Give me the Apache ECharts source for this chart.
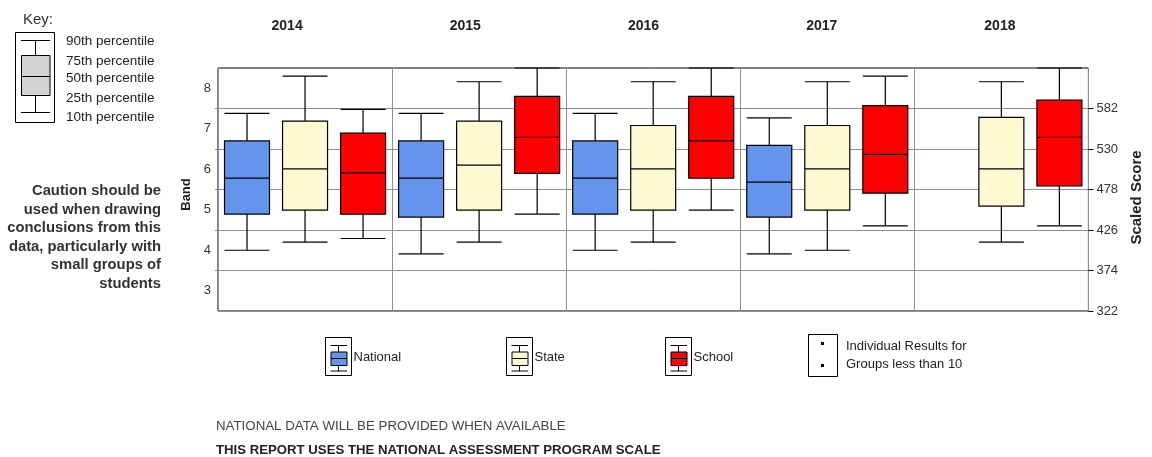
<!DOCTYPE html>
<html><head><meta charset="utf-8">
<script src="https://cdn.jsdelivr.net/npm/echarts@6/dist/echarts.min.js"></script>
<style>html,body{margin:0;padding:0;background:#fff;}#c{width:1152px;height:457px;}</style>
</head><body><div id="c"></div>
<script>
// ---- data (band units): [10th, 25th, 50th, 75th, 90th percentile] ----
const years = ['2014', '2015', '2016', '2017', '2018'];
const national = [
  [4.00, 4.89, 5.78, 6.70, 7.38],
  [3.91, 4.82, 5.78, 6.70, 7.38],
  [4.00, 4.89, 5.78, 6.70, 7.38],
  [3.91, 4.82, 5.68, 6.59, 7.27],
  null
];
const state = [
  [4.20, 4.99, 6.01, 7.19, 8.30],
  [4.20, 4.99, 6.10, 7.19, 8.16],
  [4.20, 4.99, 6.01, 7.08, 8.16],
  [4.00, 4.99, 6.01, 7.08, 8.16],
  [4.20, 5.09, 6.01, 7.28, 8.16]
];
const school = [
  [4.29, 4.89, 5.91, 6.89, 7.48],
  [4.89, 5.90, 6.79, 7.80, 8.50],
  [4.99, 5.78, 6.70, 7.80, 8.50],
  [4.60, 5.41, 6.37, 7.57, 8.30],
  [4.60, 5.59, 6.79, 7.71, 8.50]
];
const seriesNames = ['National', 'State', 'School'];
const bandTicks = [3, 4, 5, 6, 7, 8];
const scaledTicks = [322, 374, 426, 478, 530, 582];
const keyLabels = ['90th percentile', '75th percentile', '50th percentile', '25th percentile', '10th percentile'];
const cautionText = ['Caution should be', 'used when drawing', 'conclusions from this', 'data, particularly with', 'small groups of', 'students'];
const footNotes = ['NATIONAL DATA WILL BE PROVIDED WHEN AVAILABLE', 'THIS REPORT USES THE NATIONAL ASSESSMENT PROGRAM SCALE'];
const smallGroupLabel = ['Individual Results for', 'Groups less than 10'];

// ---- styling ----
const colors = ['#6495ED', '#FFF9D2', '#FF0000'];
const FONT = "'Liberation Sans', Arial, sans-serif";
const GRID_GRAY = '#8f8f8f';

const allSeries = [national, state, school];
const slots = [];
years.forEach(y => seriesNames.forEach(n => slots.push(y + ' ' + n)));
const EMPTY = ['-', '-', '-', '-', '-'];

const series = allSeries.map((arr, k) => ({
  type: 'boxplot',
  name: seriesNames[k],
  xAxisIndex: k + 1,
  yAxisIndex: 0,
  boxWidth: [45, 45],
  silent: true,
  itemStyle: { color: colors[k], borderColor: '#000', borderWidth: 1.2 },
  emphasis: { disabled: true },
  data: slots.map((s, j) => (j % 3 === k && arr[Math.floor(j / 3)]) ? arr[Math.floor(j / 3)].slice() : EMPTY.slice())
}));

const hiddenSlotAxis = () => ({
  type: 'category', gridIndex: 0, data: slots, show: false, boundaryGap: true
});

// ---- decorations (key, legend, notes) ----
const g = [];
function line(x1, y1, x2, y2, color, w) {
  g.push({ type: 'line', silent: true, shape: { x1, y1, x2, y2 }, style: { stroke: color || '#000', lineWidth: w || 1 } });
}
function rect(x, y, w, h, fill, stroke) {
  g.push({ type: 'rect', silent: true, shape: { x, y, width: w, height: h }, style: { fill: fill, stroke: stroke || '#000', lineWidth: 1 } });
}
function text(x, y, str, opt) {
  g.push({ type: 'text', silent: true, x, y, style: Object.assign({ text: str, font: '12px ' + FONT, fill: '#222', align: 'left', verticalAlign: 'middle' }, opt || {}) });
}
// Key
text(23, 20, 'Key:', { font: '15px ' + FONT, fill: '#333' });
rect(15.5, 32.5, 39, 90, '#fff');
line(21, 40.5, 50, 40.5); line(35.5, 40.5, 35.5, 55.5);
rect(21.5, 55.5, 28.5, 40, '#d3d3d3');
line(21.5, 76.5, 50, 76.5);
line(35.5, 95.5, 35.5, 112.5); line(21, 112.5, 50, 112.5);
const keyY = [41.7, 61, 78.3, 98.3, 117.3];
keyLabels.forEach((t, i) => text(66, keyY[i], t, { font: '13.5px ' + FONT, fill: '#222' }));

// Caution
text(161, 182, cautionText.join('\n'), { font: 'bold 14.8px ' + FONT, fill: '#333', align: 'right', verticalAlign: 'top', lineHeight: 18.5 });

// Series legend glyphs
const legendX = [325.5, 506.5, 665.5];
seriesNames.forEach((n, k) => {
  const fx = legendX[k], fy = 337.5;
  rect(fx, fy, 26, 38, '#fff');
  line(fx + 5, fy + 8, fx + 21.5, fy + 8);
  line(fx + 13, fy + 8, fx + 13, fy + 14.5);
  rect(fx + 5.5, fy + 14.5, 16, 13.5, colors[k]);
  line(fx + 5.5, fy + 21, fx + 21.5, fy + 21);
  line(fx + 13, fy + 28, fx + 13, fy + 33.5);
  line(fx + 5, fy + 33.5, fx + 21.5, fy + 33.5);
  text(fx + 28, 357, n, { font: '13px ' + FONT, fill: '#222' });
});
// small-groups legend item
rect(808.5, 334.5, 29, 42, '#fff');
g.push({ type: 'rect', silent: true, shape: { x: 821, y: 342, width: 3, height: 3 }, style: { fill: '#000' } });
g.push({ type: 'rect', silent: true, shape: { x: 821, y: 364, width: 3, height: 3 }, style: { fill: '#000' } });
text(846, 346, smallGroupLabel[0], { font: '13px ' + FONT, fill: '#222' });
text(846, 364.5, smallGroupLabel[1], { font: '13px ' + FONT, fill: '#222' });

// Footnotes
text(216, 426, footNotes[0], { font: '13.3px ' + FONT, fill: '#444' });
text(216, 450, footNotes[1], { font: 'bold 13.2px ' + FONT, fill: '#222' });

const chart = echarts.init(document.getElementById('c'), null, { renderer: 'canvas' });
chart.setOption({
  backgroundColor: '#fff',
  animation: false,
  grid: [
    { left: 218, top: 68, width: 880, height: 243, show: true, borderColor: '#000', borderWidth: 1, backgroundColor: 'transparent' },
    { left: 198, top: 68, width: 891, height: 243, show: false }
  ],
  xAxis: [
    {
      type: 'category', gridIndex: 0, data: years, boundaryGap: true,
      axisLine: { show: false }, axisTick: { show: false }, axisLabel: { show: false },
      splitLine: { show: true, lineStyle: { color: GRID_GRAY, width: 1 } }
    },
    hiddenSlotAxis(), hiddenSlotAxis(), hiddenSlotAxis(),
    {
      type: 'category', gridIndex: 1, data: years, position: 'top', boundaryGap: true,
      axisLine: { show: false }, axisTick: { show: false }, splitLine: { show: false },
      axisLabel: { margin: 35, fontFamily: FONT, fontWeight: 'bold', fontSize: 14, color: '#222' }
    }
  ],
  yAxis: [
    {
      type: 'value', gridIndex: 0, position: 'left', min: 2.5, max: 8.5,
      axisLine: { show: false }, splitLine: { show: false },
      axisTick: { show: true, customValues: bandTicks.slice(0, 5).map(b => b + 0.5), length: 3, lineStyle: { color: GRID_GRAY } },
      axisLabel: { customValues: bandTicks, margin: 7, fontFamily: FONT, fontSize: 13, color: '#333' },
      name: 'Band', nameLocation: 'middle', nameRotate: 90, nameGap: 24,
      nameTextStyle: { fontFamily: FONT, fontWeight: 'bold', fontSize: 13, color: '#222', padding: [0, 10, 0, 0] }
    },
    {
      type: 'value', gridIndex: 0, position: 'right', min: 0, max: 6, interval: 1,
      axisLine: { show: false },
      splitLine: { show: true, lineStyle: { color: GRID_GRAY, width: 1 } },
      axisTick: { show: true, inside: false, length: 5, customValues: [0, 1, 2, 3, 4, 5], lineStyle: { color: '#000' } },
      axisLabel: {
        margin: 8, fontFamily: FONT, fontSize: 13, color: '#333',
        formatter: v => (scaledTicks[v] !== undefined ? String(scaledTicks[v]) : '')
      },
      name: 'Scaled Score', nameLocation: 'middle', nameRotate: 90, nameGap: 40,
      nameTextStyle: { fontFamily: FONT, fontWeight: 'bold', fontSize: 15, color: '#222', padding: [0, 16, 0, 0] }
    },
    { type: 'value', gridIndex: 1, show: false }
  ],
  series: series,
  graphic: g
});
</script>
</body></html>
